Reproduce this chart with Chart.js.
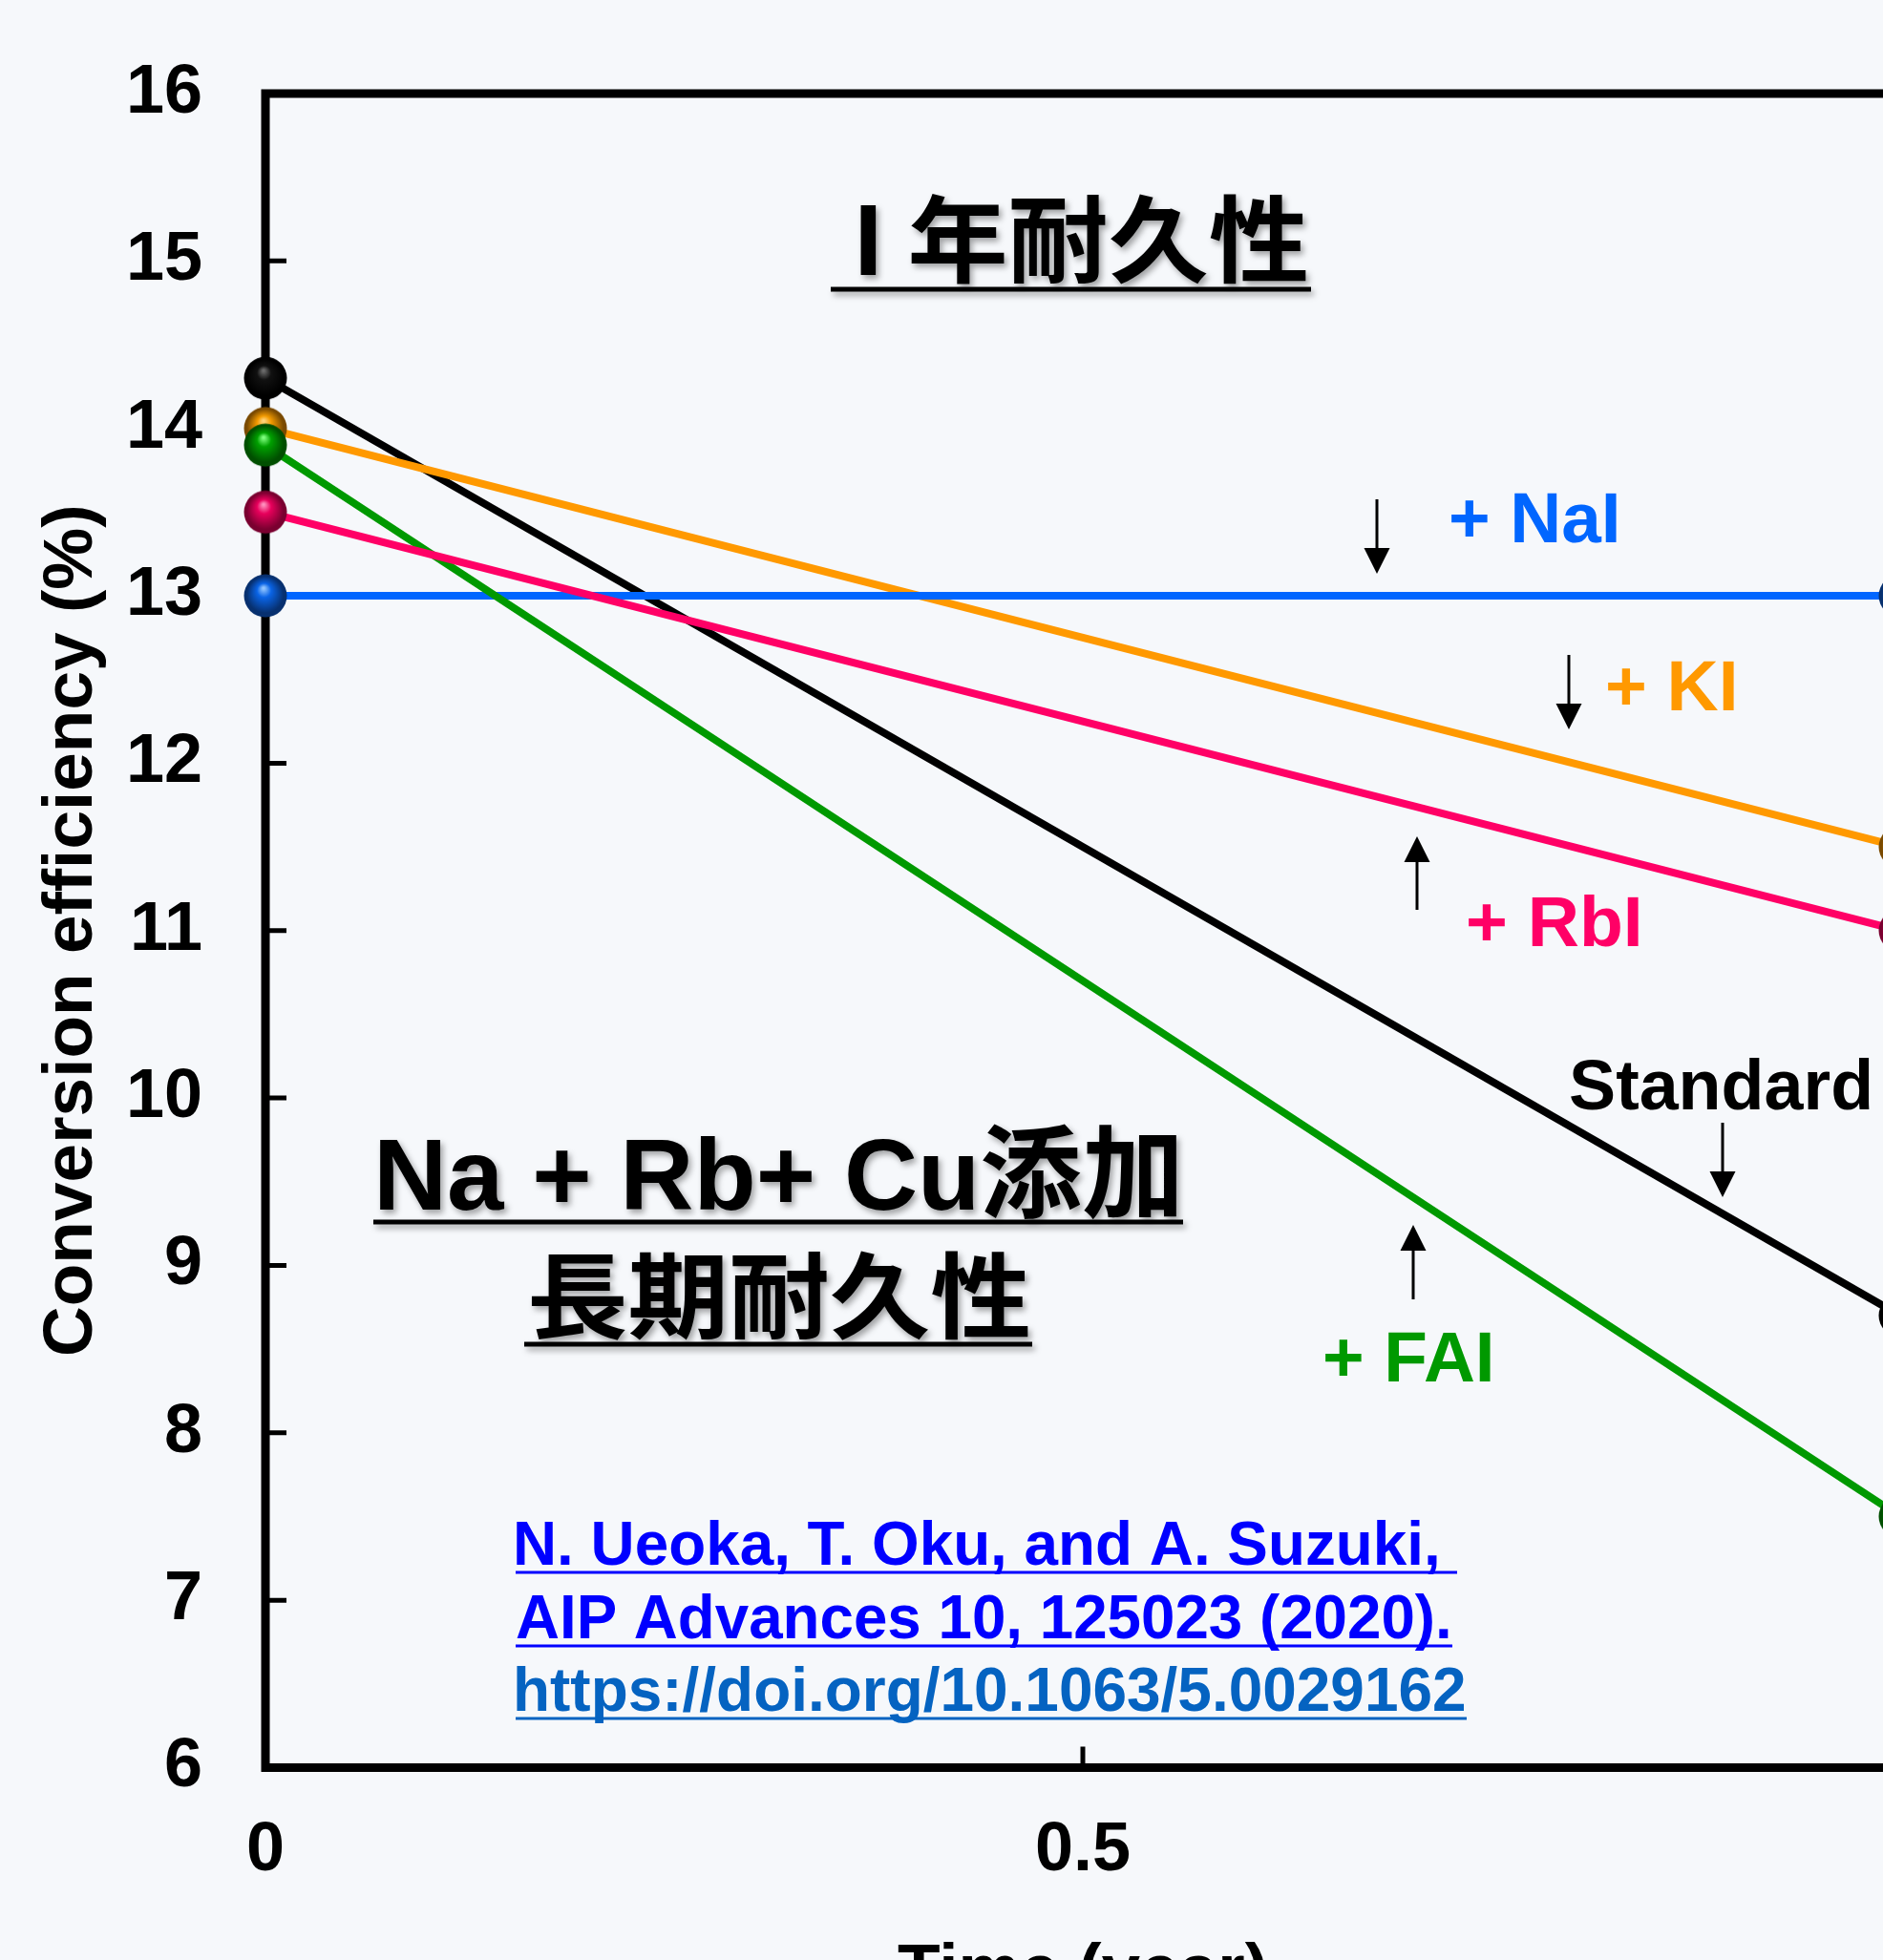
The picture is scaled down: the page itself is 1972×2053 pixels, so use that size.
<!DOCTYPE html>
<html>
<head>
<meta charset="utf-8">
<script src="https://cdn.jsdelivr.net/npm/chart.js@4"></script>
<style>
  html, body { margin: 0; padding: 0; overflow: hidden; background: #f6f8fb; }
  canvas { display: block; }
</style>
</head>
<body>
<canvas id="chart" width="2040" height="2140"></canvas>
<script>
// Data (efficiency in %, time in years)
const timeYears   = [0, 1];
const standardEff = [14.3, 8.7];
const naiEff      = [13.0, 13.0];
const kiEff       = [14.0, 11.5];
const rbiEff      = [13.5, 11.0];
const faiEff      = [13.9, 7.5];

const xTickValues = [0, 0.5, 1];
const xTickLabels = ['0', '0.5', '1'];
const yTickValues = [6, 7, 8, 9, 10, 11, 12, 13, 14, 15, 16];
const yTickLabels = ['6', '7', '8', '9', '10', '11', '12', '13', '14', '15', '16'];

const CANVAS_H = 2140;
// wanted plot box (the right edge falls just outside the window)
const AREA = {left: 278, top: 98, right: 1990, bottom: 1851.5};

const LATIN = '"Liberation Sans", Arial, sans-serif';
const MIXED = '"Liberation Sans", "Noto Sans CJK JP", sans-serif';
const CJK = '"Noto Sans CJK JP", sans-serif';

// little shaded ball used as point marker
function makeBall(base, light, dark) {
  const r = 22.5, size = 48, c = size / 2;
  const cv = document.createElement('canvas');
  cv.width = size; cv.height = size;
  const g = cv.getContext('2d');
  const grad = g.createRadialGradient(c - 2, c - 8, 1, c, c, r);
  grad.addColorStop(0, light);
  grad.addColorStop(0.3, base);
  grad.addColorStop(0.85, dark);
  grad.addColorStop(1, dark);
  g.fillStyle = grad;
  g.beginPath();
  g.arc(c, c, r, 0, Math.PI * 2);
  g.fill();
  return cv;
}

function pts(values) {
  return timeYears.map((t, i) => ({x: t, y: values[i]}));
}

function series(label, values, color, ball) {
  return {
    label: label,
    data: pts(values),
    borderColor: color,
    backgroundColor: color,
    borderWidth: 8,
    pointStyle: ball,
    pointRadius: 22.5,
    pointHoverRadius: 22.5,
    tension: 0,
    clip: false
  };
}

// fit text horizontally between left/right, sitting on a baseline
function fitLine(ctx, text, font, color, left, right, baseline) {
  ctx.save();
  ctx.font = font;
  ctx.fillStyle = color;
  ctx.textAlign = 'left';
  ctx.textBaseline = 'alphabetic';
  const m = ctx.measureText(text);
  const w = m.actualBoundingBoxLeft + m.actualBoundingBoxRight;
  ctx.translate(left, baseline);
  ctx.scale((right - left) / w, 1);
  ctx.fillText(text, m.actualBoundingBoxLeft, 0);
  ctx.restore();
}

// fit text into an ink box
function fitBox(ctx, text, font, color, left, right, top, bottom) {
  ctx.save();
  ctx.font = font;
  ctx.fillStyle = color;
  ctx.textAlign = 'left';
  ctx.textBaseline = 'alphabetic';
  const m = ctx.measureText(text);
  const w = m.actualBoundingBoxLeft + m.actualBoundingBoxRight;
  const h = m.actualBoundingBoxAscent + m.actualBoundingBoxDescent;
  ctx.translate(left, top);
  ctx.scale((right - left) / w, (bottom - top) / h);
  ctx.fillText(text, m.actualBoundingBoxLeft, m.actualBoundingBoxAscent);
  ctx.restore();
}

function hline(ctx, x1, x2, y, w, color) {
  ctx.save();
  ctx.strokeStyle = color;
  ctx.lineWidth = w;
  ctx.beginPath();
  ctx.moveTo(x1, y);
  ctx.lineTo(x2, y);
  ctx.stroke();
  ctx.restore();
}

function arrow(ctx, x, tail, tip) {
  const dir = tip > tail ? 1 : -1;
  const head = 27, half = 13.5;
  ctx.save();
  ctx.strokeStyle = '#000';
  ctx.fillStyle = '#000';
  ctx.lineWidth = 3;
  ctx.beginPath();
  ctx.moveTo(x, tail);
  ctx.lineTo(x, tip - dir * head);
  ctx.stroke();
  ctx.beginPath();
  ctx.moveTo(x, tip);
  ctx.lineTo(x - half, tip - dir * head);
  ctx.lineTo(x + half, tip - dir * head);
  ctx.closePath();
  ctx.fill();
  ctx.restore();
}

// axis frame with inward ticks, drawn under the data
const framePlugin = {
  id: 'frame',
  beforeDatasetsDraw(chart) {
    const {ctx, chartArea: a, scales} = chart;
    ctx.save();
    ctx.strokeStyle = '#000';
    ctx.lineWidth = 9;
    ctx.lineJoin = 'miter';
    ctx.strokeRect(a.left, a.top, a.right - a.left, a.bottom - a.top);
    ctx.lineWidth = 5;
    ctx.beginPath();
    yTickValues.forEach(v => {
      const y = scales.y.getPixelForValue(v);
      ctx.moveTo(a.left, y);
      ctx.lineTo(a.left + 22, y);
    });
    xTickValues.forEach(v => {
      const x = scales.x.getPixelForValue(v);
      ctx.moveTo(x, a.bottom);
      ctx.lineTo(x, a.bottom - 22);
    });
    ctx.stroke();
    ctx.restore();
  }
};

// headings, series labels, arrows and the reference
const notesPlugin = {
  id: 'notes',
  afterDatasetsDraw(chart) {
    const ctx = chart.ctx;

    ctx.save();
    ctx.shadowColor = 'rgba(0,0,0,0.35)';
    ctx.shadowBlur = 6;
    ctx.shadowOffsetX = 3;
    ctx.shadowOffsetY = 4;
    fitBox(ctx, 'I 年耐久性', 'bold 104px ' + CJK, '#000', 901, 1368, 202, 297);
    hline(ctx, 870, 1373, 303, 5, '#000');
    fitLine(ctx, 'Na + Rb+ Cu添加', 'bold 106px ' + MIXED, '#000', 398, 1232, 1267);
    hline(ctx, 391, 1239, 1280, 5, '#000');
    fitBox(ctx, '長期耐久性', 'bold 104px ' + CJK, '#000', 556, 1077, 1309, 1403);
    hline(ctx, 549, 1081, 1408, 5, '#000');
    ctx.restore();

    const lab = 'bold 74px ' + LATIN;
    fitLine(ctx, '+ NaI', lab, '#0066ff', 1520, 1693, 567.5);
    fitLine(ctx, '+ KI', lab, '#ff9900', 1684, 1816, 743.6);
    fitLine(ctx, '+ RbI', lab, '#ff0066', 1538, 1716, 991);
    fitLine(ctx, 'Standard', lab, '#000000', 1645, 1958, 1162);
    fitLine(ctx, '+ FAI', lab, '#009900', 1388, 1561, 1447);

    arrow(ctx, 1442, 523, 601);
    arrow(ctx, 1643, 686, 764);
    arrow(ctx, 1484, 953, 876);
    arrow(ctx, 1804, 1176, 1254);
    arrow(ctx, 1480, 1361, 1283);

    const ref = 'bold 64px ' + LATIN;
    fitLine(ctx, 'N. Ueoka, T. Oku, and A. Suzuki,', ref, '#0000ff', 541, 1505, 1639);
    hline(ctx, 540, 1526, 1647, 3, '#0000ff');
    fitLine(ctx, 'AIP Advances 10, 125023 (2020).', ref, '#0000ff', 541, 1517, 1716);
    hline(ctx, 540, 1521, 1724, 3, '#0000ff');
    fitLine(ctx, 'https://doi.org/10.1063/5.0029162', ref, '#0563c1', 541, 1534, 1792);
    hline(ctx, 540, 1536, 1800, 3, '#0563c1');
  }
};

const tickFont = {family: LATIN, weight: 'bold', size: 72};
const titleFont = {family: LATIN, weight: 'bold', size: 73};

const chart = new Chart(document.getElementById('chart'), {
  type: 'line',
  data: {
    datasets: [
      series('+ RbI', rbiEff, '#ff0066', makeBall('#e8005c', '#ff8fbd', '#7a0030')),
      series('+ FAI', faiEff, '#009900', makeBall('#00a000', '#7dff7d', '#004f00')),
      series('+ NaI', naiEff, '#0066ff', makeBall('#0a64e6', '#8fc4ff', '#07306f')),
      series('+ KI', kiEff, '#ff9900', makeBall('#f29a00', '#ffd37a', '#7a4a00')),
      series('Standard', standardEff, '#000000', makeBall('#111111', '#6a6a6a', '#000000'))
    ]
  },
  options: {
    responsive: false,
    animation: false,
    devicePixelRatio: 1,
    layout: {autoPadding: false, padding: {top: AREA.top, right: 2040 - AREA.right, left: 0, bottom: 0}},
    plugins: {legend: {display: false}, tooltip: {enabled: false}},
    scales: {
      x: {
        type: 'linear',
        min: 0,
        max: 1,
        afterBuildTicks: s => { s.ticks = xTickValues.map(v => ({value: v})); },
        afterFit: s => {
          s.height = CANVAS_H - AREA.bottom;
          // labels hang a little past the ends, the page padding covers it
          s.paddingLeft = 0;
          s.paddingRight = 0;
        },
        ticks: {
          callback: (v, i) => xTickLabels[i],
          font: tickFont,
          color: '#000',
          padding: 44,
          maxRotation: 0,
          autoSkip: false
        },
        grid: {display: false, drawTicks: false},
        border: {display: false},
        title: {display: true, text: 'Time (year)', font: titleFont, color: '#000', padding: {top: 0, bottom: 29}}
      },
      y: {
        min: 6,
        max: 16,
        afterBuildTicks: s => { s.ticks = yTickValues.map(v => ({value: v})); },
        afterFit: s => {
          s.width = AREA.left;
          s.paddingTop = 0;
          s.paddingBottom = 0;
        },
        ticks: {
          callback: (v, i) => yTickLabels[i],
          font: tickFont,
          color: '#000',
          padding: 66,
          autoSkip: false
        },
        grid: {display: false, drawTicks: false},
        border: {display: false},
        title: {display: true, text: 'Conversion efficiency (%)', font: titleFont, color: '#000', padding: {top: 32, bottom: 0}}
      }
    }
  },
  plugins: [framePlugin, notesPlugin]
});

// nudge the layout padding if the library shifted the plot box
const got = chart.chartArea;
const pad = chart.options.layout.padding;
const dTop = got.top - AREA.top;
const dRight = AREA.right - got.right;
if (Math.abs(dTop) > 0.5 || Math.abs(dRight) > 0.5) {
  pad.top -= dTop;
  pad.right -= dRight;
  chart.update();
}
</script>
</body>
</html>
